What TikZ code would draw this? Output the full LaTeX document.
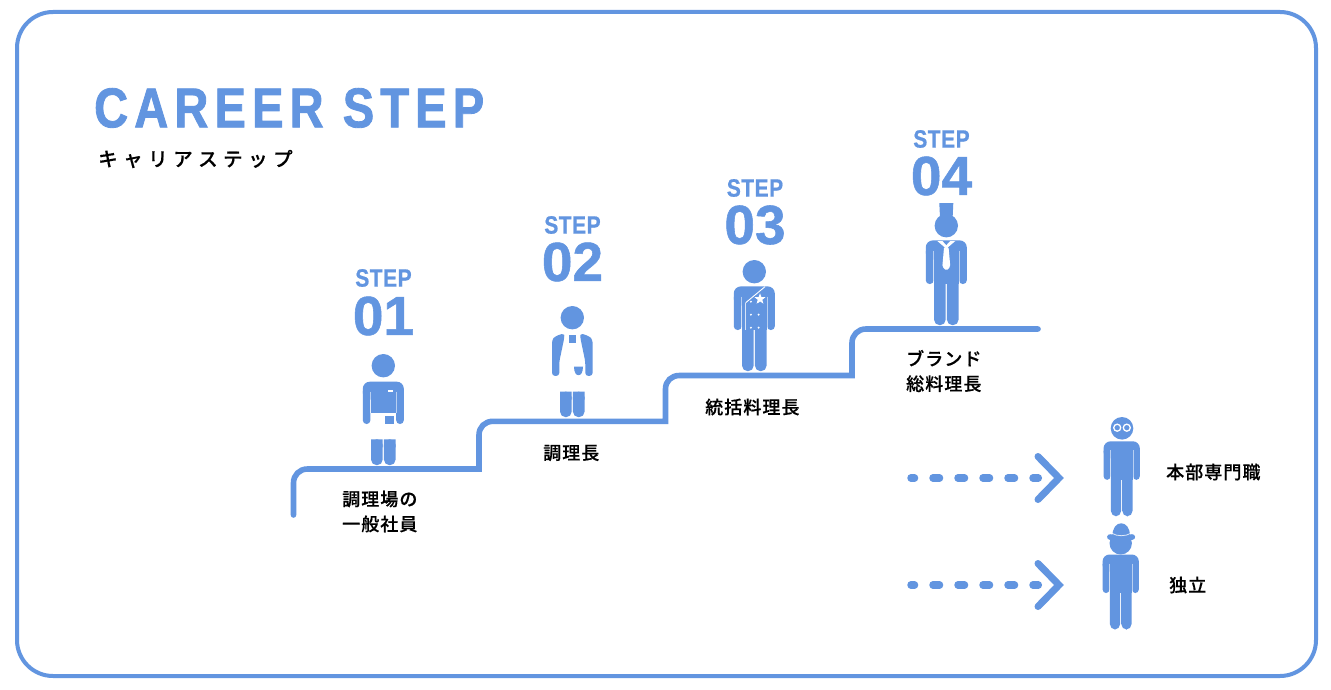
\documentclass[tikz,border=0pt]{standalone}
\usepackage{fontspec}
\setmainfont{Noto Sans CJK JP}
\newfontfamily\jpm[LetterSpace=6,FakeBold=.4]{Noto Sans CJK JP Medium}
\newfontfamily\jps[FakeBold=.4]{Noto Sans CJK JP Medium}
\newfontfamily\ttl[LetterSpace=11,FakeStretch=.84,FakeBold=1.5]{Liberation Sans Bold}
\newfontfamily\stp[LetterSpace=2,FakeStretch=.84,FakeBold=.6]{Liberation Sans Bold}
\newfontfamily\nmb[FakeStretch=1,FakeBold=1]{Liberation Sans Bold}
\usetikzlibrary{shapes.geometric}
\definecolor{cb}{HTML}{6295E0}
\newcommand{\figlegs}[1]{%
  \fill[cb,rounded corners=5.6pt] (-12.3,#1) -- (-.6,#1) -- (-.6,99.5) -- (-12.3,99.5) -- cycle;
  \fill[cb,rounded corners=5.6pt] (.6,#1) -- (12.3,#1) -- (12.3,99.5) -- (.6,99.5) -- cycle;
  \fill[cb] (-12.3,#1) rectangle (-.6,#1+8) (.6,#1) rectangle (12.3,#1+8);}
\tikzset{
  x=1pt,y=-1pt,
  lab/.style={font=\jpm\fontsize{18}{25}\selectfont,text=black,align=left,inner sep=0pt},
  steptxt/.style={font=\stp\fontsize{25}{25}\selectfont,text=cb,inner sep=0pt},
  numtxt/.style={font=\nmb\fontsize{55}{55}\selectfont,text=cb,inner sep=0pt},
  stair/.style={draw=cb,line width=5.6pt,line cap=round,line join=miter},
  dashline/.style={draw=cb,line width=7.5pt,line cap=round,dash pattern=on 6.5pt off 18.5pt,dash phase=3pt},
  chev/.style={draw=cb,line width=7pt,line cap=round,line join=miter},
  hl/.style={draw=white,line width=.7pt,draw opacity=.55},
  pics/fullfig/.style={code={
    \fill[cb] (0,0) circle (11.7);
    \fill[cb,rounded corners=7pt] (-20.5,14.7) rectangle (20.5,34);
    \fill[cb,rounded corners=3.7pt] (-20.5,22) rectangle (-12.6,58.3);
    \fill[cb,rounded corners=3.7pt] (12.6,22) rectangle (20.5,58.3);
    \fill[cb] (-12.6,18) rectangle (12.6,58.5);
    \figlegs{50}
    \draw[hl] (-12.6,25) -- (-12.6,58) (12.6,25) -- (12.6,58);
  }},
}
\begin{document}
\begin{tikzpicture}
\useasboundingbox (0,0) rectangle (1331,690);
\fill[white] (0,0) rectangle (1331,690);
\node[draw=cb,line width=4pt,rounded corners=36pt,minimum width=1299pt,minimum height=664pt,inner sep=0pt] (frame) at (666.5,344) {};

\node[anchor=west,inner sep=0pt,text=cb,font=\ttl\fontsize{56}{56}\selectfont] (title) at (94,108) {CAREER STEP};
\node[anchor=west,inner sep=0pt,font=\jps\fontsize{19.5}{20}\selectfont] (sub) at (98,159) {キ\kern5.5ptャ\kern5.5ptリ\kern5.5ptア\kern5.5ptス\kern5.5ptテ\kern5.5ptッ\kern5.5ptプ};

% stairs
\coordinate (s0) at (293.5,515);
\coordinate (s2) at (479,469);
\coordinate (s4) at (665.5,421.3);
\coordinate (s6) at (852,375.5);
\coordinate (s8) at (1038,329);
\draw[stair] (s0) -- (293.5,483) .. controls (293.5,475) and (299.5,469) .. (307.5,469)
  -- (s2) -- (479,435) .. controls (479,427) and (485,421.3) .. (493,421.3)
  -- (s4) -- (665.5,389) .. controls (665.5,381) and (671.5,375.5) .. (679.5,375.5)
  -- (s6) -- (852,343) .. controls (852,335) and (858,329) .. (866,329) -- (s8);

% STEP labels
\node[steptxt] (st1) at (383.5,278) {STEP};
\node[numtxt] (n1) at (383.5,316) {01};
\node[steptxt] (st2) at (572.5,225) {STEP};
\node[numtxt] (n2) at (572.5,262) {02};
\node[steptxt] (st3) at (755,188) {STEP};
\node[numtxt] (n3) at (755,225) {03};
\node[steptxt] (st4) at (941.5,139) {STEP};
\node[numtxt] (n4) at (941.5,176) {04};

% figure 1
\begin{scope}[shift={(383.3,365.7)}]
  \fill[cb] (0,0) circle (11.7);
  \fill[cb,rounded corners=7pt] (-20.5,16) rectangle (20.5,34);
  \fill[cb,rounded corners=3.7pt] (-20.5,22) rectangle (-12.9,58.3);
  \fill[cb,rounded corners=3.7pt] (12.9,22) rectangle (20.5,58.3);
  \fill[cb] (-12.6,20) rectangle (12.6,47);
  \draw[hl] (-12.9,26) -- (-12.9,47) (12.9,26) -- (12.9,47);
  \fill[white] (4.7,24.3) rectangle (10,26.3);
  \fill[cb] (1.7,50.5) rectangle (10.7,57.8);
  \figlegs{73.6}
\end{scope}

% figure 2
\begin{scope}[shift={(572.3,317.7)}]
  \fill[cb] (0,0) circle (11.7);
  \fill[cb,rounded corners=3pt] (-8,15.5) -- (-8,20) -- (-13,44) -- (-13,58.2) -- (-20.3,58.2) -- (-20.3,22) -- (-17,18.5) -- cycle;
  \fill[cb,rounded corners=3pt] (8,15.5) -- (8,20) -- (13,44) -- (13,58.2) -- (20.3,58.2) -- (20.3,22) -- (17,18.5) -- cycle;
  \fill[cb] (-3.4,17) rectangle (3.4,25);
  \fill[cb] (1.7,49) -- (10.7,49) .. controls (10.7,55) and (8.4,57.5) .. (6.2,57.5) .. controls (4,57.5) and (1.7,55) .. (1.7,49) -- cycle;
  \figlegs{74}
\end{scope}

% figure 3
\pic at (754.3,271.7) {fullfig};
\begin{scope}[shift={(754.3,271.7)}]
  \draw[white,line width=.9pt,line join=round] (10.7,15) -- (-8.6,31);
  \draw[white,line width=.8pt,draw opacity=.75] (-8.6,31) -- (-8.6,58);
  \node[star,star points=5,star point ratio=2.4,fill=white,minimum size=11.5pt,inner sep=0pt] (star1) at (5.7,27.3) {};
  \foreach \py in {30,43,56} {
    \fill[white] (-3.4,\py) circle (1.1);
    \fill[white] (4.3,\py) circle (1.1);
  }
\end{scope}

% figure 4
\pic at (946.3,225.7) {fullfig};
\begin{scope}[shift={(946.3,225.7)}]
  \fill[cb] (-7,-22.7) -- (7,-22.7) -- (6.3,-8) -- (-6.3,-8) -- cycle;
  \fill[white] (-9,15.3) -- (9,15.3) -- (0,23) -- cycle;
  \fill[cb] (-3.7,15.3) -- (3.7,15.3) -- (0,19.3) -- cycle;
  \fill[white,rounded corners=1.5pt] (-2.2,21) -- (2.2,21) -- (4,41) -- (0,45) -- (-4,41) -- cycle;
\end{scope}

% figure 5
\pic[transform shape] at (1121.7,428.3) [scale=.885] {fullfig};
\begin{scope}[shift={(1122,428.3)}]
  \fill[cb] (0,0) circle (11.3);
  \draw[white,line width=1.3pt] (-4.8,-.6) circle (3.5) (4.8,-.6) circle (3.5);
\end{scope}

% figure 6
\pic[transform shape] at (1120.7,541.5) [scale=.885] {fullfig};
\begin{scope}[shift={(1120.7,543.3)}]
  \fill[cb] (0,0) circle (11.2);
  \fill[cb] (-8.3,-7) .. controls (-8.3,-16) and (-4,-20) .. (.5,-20) .. controls (5,-20) and (9.3,-16) .. (9.3,-7) -- cycle;
  \draw[cb,line width=5.6pt,line cap=round] (-10.8,-6.3) .. controls (-5,-5.5) and (6,-5.5) .. (11.6,-6.3);
  \draw[white,line width=.8pt,draw opacity=.8] (-8.7,-10) .. controls (-4,-6.8) and (5,-6.8) .. (10,-10);
\end{scope}

% arrows
\coordinate (a1s) at (911,478);
\coordinate (a1e) at (1038.3,478);
\coordinate (a2s) at (911,585);
\coordinate (a2e) at (1038.3,585);
\draw[dashline] (a1s) -- (a1e);
\draw[dashline] (a2s) -- (a2e);
\draw[chev] (1038,456.5) -- (1059,478) -- (1038,499.5);
\draw[chev] (1038,563.5) -- (1059,585) -- (1038,606.5);

% labels
\node[lab,anchor=west] (l1) at (342,511.5) {調理場の\\一般社員};
\node[lab,anchor=west] (l2) at (543,453) {調理長};
\node[lab,anchor=west] (l3) at (705,407) {統括料理長};
\node[lab,anchor=west] (l4) at (906,371) {ブランド\\総料理長};
\node[lab,anchor=west] (l5) at (1166,472) {本部専門職};
\node[lab,anchor=west] (l6) at (1169,585) {独立};
\end{tikzpicture}
\end{document}
